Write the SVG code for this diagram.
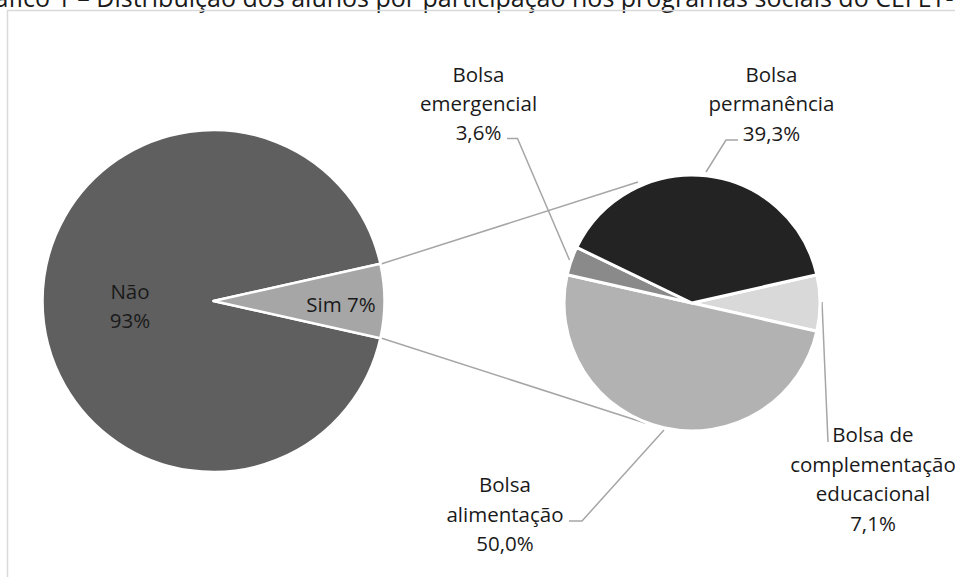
<svg xmlns="http://www.w3.org/2000/svg" width="955" height="577" viewBox="0 0 955 577">
<style>
.lbl{font-family:"Open Sans","Liberation Sans",sans-serif;font-size:20.5px;fill:#1a1a1a;text-anchor:middle}
.ttl{font-family:"Open Sans","Liberation Sans",sans-serif;font-size:25px;fill:#1a1a1a}
.sl{stroke:#fff;stroke-width:2.5;stroke-linejoin:round}
.sr{stroke:#fff;stroke-width:3;stroke-linejoin:round}
.ln{fill:none;stroke:#a6a6a6;stroke-width:1.5}
</style>
<rect width="955" height="577" fill="#fff"/>
<g id="title"><text class="ttl" x="-34" y="6.5">Gráfico 1 – Distribuição dos alunos por participação nos programas sociais do CEFET-MG</text></g>
<rect id="frame" x="7.5" y="10.5" width="980" height="600" fill="none" stroke="#d9d9d9" stroke-width="1.5"/>
<g id="connectors">
<path class="ln" d="M381 264 L638 182"/>
<path class="ln" d="M381 338 L645 423"/>
<path class="ln" d="M507 138.5 L517.5 138.5 L569.5 260"/>
<path class="ln" d="M738 140 L726 140 L706 172"/>
<path class="ln" d="M569 521 L582 521 L664 430"/>
<path class="ln" d="M822 302 L828 442"/>
</g>
<g id="nao">
<path class="sl" fill="#5f5f5f" d="M213.5 301 L380.38 338.30 A171 171 0 1 1 380.38 263.70 Z"/>
<text class="lbl" x="130" y="298.5">Não</text>
<text class="lbl" x="130" y="328">93%</text>
</g>
<g id="sim">
<path class="sl" fill="#a6a6a6" d="M213.5 301 L380.38 263.70 A171 171 0 0 1 380.38 338.30 Z"/>
<text class="lbl" x="341" y="312">Sim 7%</text>
</g>
<g id="complementacao">
<path class="sr" fill="#d9d9d9" d="M692 303 L816.83 274.69 A128 128 0 0 1 816.83 331.31 Z"/>
<text class="lbl" x="873" y="442">Bolsa de</text>
<text class="lbl" x="873" y="471.5">complementação</text>
<text class="lbl" x="873" y="501">educacional</text>
<text class="lbl" x="873" y="530.5">7,1%</text>
</g>
<g id="alimentacao">
<path class="sr" fill="#b2b2b2" d="M692 303 L816.83 331.31 A128 128 0 0 1 567.17 274.69 Z"/>
<text class="lbl" x="505" y="492">Bolsa</text>
<text class="lbl" x="505" y="521.5">alimentação</text>
<text class="lbl" x="505" y="551">50,0%</text>
</g>
<g id="emergencial">
<path class="sr" fill="#8a8a8a" d="M692 303 L567.17 274.69 A128 128 0 0 1 576.70 247.41 Z"/>
<text class="lbl" x="478.5" y="81.5">Bolsa</text>
<text class="lbl" x="478.5" y="110.5">emergencial</text>
<text class="lbl" x="478.5" y="139.5">3,6%</text>
</g>
<g id="permanencia">
<path class="sr" fill="#232323" d="M692 303 L576.70 247.41 A128 128 0 0 1 816.83 274.69 Z"/>
<text class="lbl" x="771.5" y="82">Bolsa</text>
<text class="lbl" x="771.5" y="111">permanência</text>
<text class="lbl" x="771.5" y="140.5">39,3%</text>
</g>
</svg>
